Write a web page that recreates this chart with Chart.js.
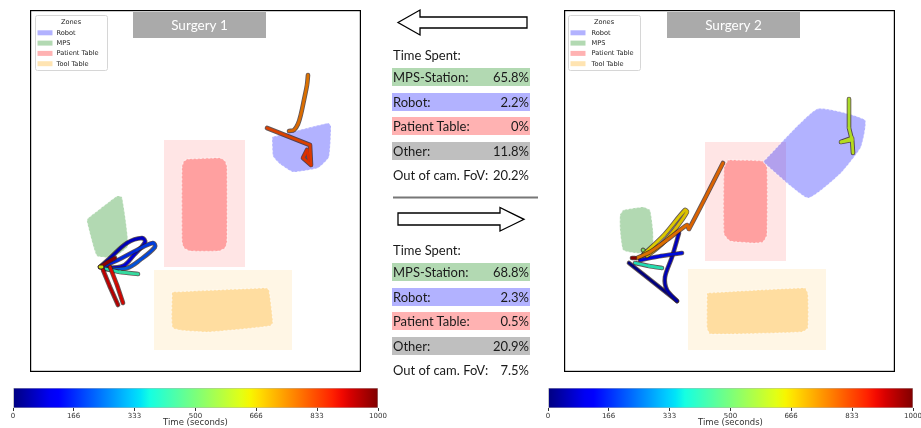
<!DOCTYPE html>
<html>
<head>
<meta charset="utf-8">
<title>Surgery staff trajectories</title>
<script src="https://cdn.jsdelivr.net/npm/chart.js@4.4.1/dist/chart.umd.min.js"></script>
<style>
  html, body { margin: 0; padding: 0; background: #fff; }
  body { width: 921px; height: 428px; position: relative; overflow: hidden; font-family: Lato, "Open Sans", sans-serif; color: #1a1a1a; }
  canvas { position: absolute; }
  .stat { position: absolute; left: 392px; width: 138px; height: 18px; line-height: 18px; font-size: 13px; white-space: nowrap;
          display: flex; justify-content: space-between; box-sizing: border-box; padding: 0 1px; }
  .head { position: absolute; left: 393px; font-size: 13px; line-height: 18px; height: 18px; white-space: nowrap; }
  svg { position: absolute; left: 0; top: 0; }
</style>
</head>
<body>
<canvas id="map1" width="331" height="362" style="left:30px;top:10px"></canvas>
<canvas id="map2" width="331" height="362" style="left:564px;top:10px"></canvas>
<canvas id="cb1" width="395" height="50" style="left:0px;top:378px"></canvas>
<canvas id="cb2" width="395" height="50" style="left:535px;top:378px"></canvas>
<svg width="921" height="428">
  <polygon points="398,22.5 420,10 420,17 527,17 527,28 420,28 420,35" fill="#fff" stroke="#000" stroke-width="1.3"/>
  <line x1="393" y1="197.5" x2="538" y2="197.5" stroke="#777" stroke-width="2"/>
  <polygon points="398,213 500,213 500,207.5 524,219.3 500,231 500,225 398,225" fill="#fff" stroke="#000" stroke-width="1.3"/>
</svg>
<div id="stats"></div>

<script>
// ---- time scale ----
const tMax = 1000;
const colorbarTicks = [0, 166, 333, 500, 666, 833, 1000];

// ---- zones ----
const zoneNames = ['Robot', 'MPS', 'Patient Table', 'Tool Table'];

// ---- time-spent summaries ----
const statLabels = ['MPS-Station:', 'Robot:', 'Patient Table:', 'Other:', 'Out of cam. FoV:'];
const s1Shares = [65.8, 2.2, 0, 11.8, 20.2];
const s2Shares = [68.8, 2.3, 0.5, 20.9, 7.5];

// ---- Surgery 1 floor plan (floor units, y grows downward) ----
const s1PatientArea = [[134,130],[215,130],[215,257],[134,257]];
const s1ToolArea    = [[124,260],[262,260],[262,340],[124,340]];
const s1RobotZone   = [[242,127],[298,113],[301,116],[299,147],[288,158],[263,162],[250,154],[243,146]];
const s1MpsZone     = [[57,209],[87,186],[92,187],[98,236],[84,247],[67,246],[57,212]];
const s1PatientZone = [[158,149],[190,148],[195,151],[197,157],[197,232],[195,238],[189,241],[160,241],[154,238],[152,232],[152,157],[154,151]];
const s1ToolZone    = [[142,282],[236,278],[239,280],[243,313],[240,316],[177,322],[143,318],[142,285]];

// tracks: [x, y, time in seconds]
const s1Tracks = [
  [[70,257,60],[80,248,68],[97,233,78],[112,228,88],[115,232,95],[104,245,104],[93,256,112],[72,258,120]],
  [[72,257,160],[88,250,170],[107,240,185],[123,233,198],[125,237,206],[110,250,218],[97,258,228],[74,259,240]],
  [[76,259,410],[90,262,425],[108,264,440]],
  [[278,65,770],[277,75,772],[274,90,775],[271,104,778],[268,114,781],[264,120,784],[259,121,786]],
  [[237,118,830],[280,135,838],[281,155,845],[273,148,850],[277,140,855],[279,150,860]],
  [[80,257,895],[87,275,902],[93,293,910]],
  [[73,260,920],[80,277,930],[88,295,940]],
  [[70,257,965],[78,252,972],[85,248,980]],
  [[70,257,640],[72,257,645]]
];
const s1TrackTension = [0.35, 0.35, 0.2, 0.35, 0, 0, 0, 0.2, 0];

// ---- Surgery 2 floor plan ----
const s2PatientArea = [[141,132],[222,132],[222,251],[141,251]];
const s2ToolArea    = [[124,259],[262,259],[262,340],[124,340]];
const s2RobotZone   = [[199,152],[253,99],[301,110],[297,137],[277,163],[244,188]];
const s2MpsZone     = [[59,200],[79,197],[86,200],[89,220],[89,237],[84,243],[70,243],[59,240],[56,220],[56,205]];
const s2PatientZone = [[164,150],[198,151],[203,157],[203,225],[199,232],[190,233],[166,231],[160,224],[160,158]];
const s2ToolZone    = [[143,283],[241,278],[244,284],[244,318],[238,322],[146,324],[143,318]];

const s2Tracks = [
  [[65,253,15],[113,291,45]],
  [[113,291,50],[103,280,60],[101,267,70],[108,247,80],[115,223,90]],
  [[76,250,130],[97,246,140],[118,243,150]],
  [[71,253,395],[85,256,405],[98,258,415]],
  [[79,240,520],[82,243,525]],
  [[285,89,590],[285,118,596],[288,130,600],[277,132,604],[288,128,607],[289,143,610]],
  [[79,245,660],[100,225,665],[121,200,670],[123,202,673],[112,218,678],[98,234,684],[83,246,690]],
  [[73,248,770],[86,242,775],[103,230,780],[123,215,785],[125,219,788],[159,153,800]],
  [[68,248,980],[71,248,990]]
];
const s2TrackTension = [0, 0.3, 0.2, 0.2, 0, 0, 0.3, 0.15, 0];

// ---- styling ----
const zoneFill = ['rgba(0,0,255,0.3)', 'rgba(0,128,0,0.3)', 'rgba(255,0,0,0.3)', 'rgba(255,165,0,0.3)'];
const areaFill = ['rgba(255,0,0,0.1)', 'rgba(255,165,0,0.1)'];
const statFill = ['rgba(0,128,0,0.3)', 'rgba(0,0,255,0.3)', 'rgba(255,0,0,0.3)', 'rgba(128,128,128,0.5)', 'rgba(0,0,0,0)'];

// matplotlib "jet" segment data
const JET = {
  r: [[0,0],[0.35,0],[0.66,1],[0.89,1],[1,0.5]],
  g: [[0,0],[0.125,0],[0.375,1],[0.64,1],[0.91,0],[1,0]],
  b: [[0,0.5],[0.11,1],[0.34,1],[0.65,0],[1,0]]
};
function interp(seg, v) {
  for (let i = 1; i < seg.length; i++) {
    if (v <= seg[i][0]) {
      const [x0, y0] = seg[i-1], [x1, y1] = seg[i];
      return y0 + (y1 - y0) * (v - x0) / (x1 - x0);
    }
  }
  return seg[seg.length-1][1];
}
function jet(v, shade = 1) {
  v = Math.max(0, Math.min(1, v));
  const c = k => Math.round(255 * shade * interp(JET[k], v));
  return `rgb(${c('r')},${c('g')},${c('b')})`;
}

function areaDataset(points, color, order) {
  return {
    data: points.map(([x, y]) => ({x, y})),
    fill: 'shape', backgroundColor: color, borderWidth: 0,
    borderColor: 'rgba(0,0,0,0)', pointRadius: 0, tension: 0, order
  };
}
function zoneDataset(points, color, order) {
  const pts = points.concat([points[0]]).map(([x, y]) => ({x, y}));
  return {
    data: pts, fill: 'shape', backgroundColor: color,
    borderColor: 'rgba(255,255,255,0.55)', borderWidth: 1.2, borderDash: [2, 2],
    pointRadius: 0, tension: 0.15, order
  };
}
// each track: dark edge underneath, time-coloured core on top
function trackDatasets(track, tension, order) {
  const pts = track.map(([x, y]) => ({x, y}));
  const times = track.map(p => p[2]);
  const common = { data: pts, fill: false, pointRadius: 0, tension,
                   borderCapStyle: 'round', borderJoinStyle: 'round' };
  return [
    Object.assign({}, common, { borderColor: 'rgba(50,30,30,0.75)', borderWidth: 4.6, order: order + 1 }),
    Object.assign({}, common, {
      borderWidth: 2.8, order,
      borderColor: jet(times[0] / tMax, 0.86),
      segment: { borderColor: c => jet(times[c.p0DataIndex] / tMax, 0.86) }
    })
  ];
}

function buildDatasets(areas, zones, tracks, tensions) {
  const ds = [];
  areas.forEach((a, i) => ds.push(areaDataset(a, areaFill[i], 1000 - i)));
  zones.forEach((z, i) => ds.push(zoneDataset(z, zoneFill[i], 900 - i)));
  let order = 800;
  tracks.forEach((t, i) => { ds.push(...trackDatasets(t, tensions[i], order)); order -= 2; });
  return ds;
}

// axes frame
const framePlugin = {
  id: 'frame',
  afterDraw(chart) {
    const {ctx, chartArea: a} = chart;
    ctx.save();
    ctx.strokeStyle = '#000';
    ctx.lineWidth = 1.2;
    ctx.strokeRect(a.left + 0.6, a.top + 0.6, a.right - a.left - 1.2, a.bottom - a.top - 1.2);
    ctx.restore();
  }
};

// zone legend in the upper-left corner of the plot
const zoneLegendPlugin = {
  id: 'zoneLegend',
  afterDraw(chart, args, opts) {
    const {ctx, chartArea: a} = chart;
    const x = a.left + opts.dx, y = a.top + 5, w = 72, h = 55;
    ctx.save();
    ctx.fillStyle = 'rgba(255,255,255,0.85)';
    ctx.strokeStyle = '#d6d6d6';
    ctx.lineWidth = 1;
    ctx.beginPath();
    ctx.roundRect(x + 0.5, y + 0.5, w, h, 2);
    ctx.fill(); ctx.stroke();
    ctx.font = '6.6px "DejaVu Sans"';
    ctx.fillStyle = '#222';
    ctx.textBaseline = 'middle';
    ctx.textAlign = 'center';
    ctx.fillText('Zones', x + w / 2, y + 7.5);
    ctx.textAlign = 'left';
    zoneNames.forEach((name, i) => {
      const cy = y + 17.8 + i * 10.3;
      ctx.fillStyle = zoneFill[i];
      ctx.fillRect(x + 2.5, cy - 2.5, 15, 5);
      ctx.fillStyle = '#222';
      ctx.fillText(name, x + 21.5 + opts.tx, cy + 0.3);
    });
    ctx.restore();
  }
};

// grey title tab at the top of each plot
const tabTitlePlugin = {
  id: 'tabTitle',
  afterDraw(chart, args, opts) {
    const {ctx, chartArea: a} = chart;
    ctx.save();
    ctx.fillStyle = '#aaaaaa';
    ctx.fillRect(a.left + 103, a.top + 2, 133, 26);
    ctx.fillStyle = '#fff';
    ctx.font = '13.5px Lato';
    ctx.textAlign = 'center';
    ctx.textBaseline = 'middle';
    ctx.fillText(opts.text, a.left + 169.5, a.top + 15.5);
    ctx.restore();
  }
};

function drawMap(id, title, areas, zones, tracks, tensions, dx, tx) {
  new Chart(document.getElementById(id), {
    type: 'line',
    data: { datasets: buildDatasets(areas, zones, tracks, tensions) },
    options: {
      responsive: false, animation: false, devicePixelRatio: 1, events: [],
      layout: { padding: 0 },
      scales: {
        x: { type: 'linear', min: 0, max: 331, display: false },
        y: { type: 'linear', min: 0, max: 362, reverse: true, display: false }
      },
      plugins: {
        legend: { display: false }, tooltip: { enabled: false },
        zoneLegend: { dx, tx }, tabTitle: { text: title }
      }
    },
    plugins: [framePlugin, zoneLegendPlugin, tabTitlePlugin]
  });
}

drawMap('map1', 'Surgery 1', [s1PatientArea, s1ToolArea],
        [s1RobotZone, s1MpsZone, s1PatientZone, s1ToolZone], s1Tracks, s1TrackTension, 5, 0);
drawMap('map2', 'Surgery 2', [s2PatientArea, s2ToolArea],
        [s2RobotZone, s2MpsZone, s2PatientZone, s2ToolZone], s2Tracks, s2TrackTension, 4, 2);

// time colour bars
function drawColorbar(id) {
  new Chart(document.getElementById(id), {
    type: 'bar',
    data: {
      labels: ['time'],
      datasets: [{
        data: [[0, tMax]],
        barPercentage: 1, categoryPercentage: 1,
        borderColor: 'rgba(0,0,0,0.3)', borderWidth: 0.8, borderSkipped: false,
        backgroundColor: (c) => {
          const chart = c.chart, sx = chart.scales.x;
          if (!chart.chartArea || !sx) return jet(0.5);
          const g = chart.ctx.createLinearGradient(sx.getPixelForValue(0), 0, sx.getPixelForValue(tMax), 0);
          for (let i = 0; i <= 40; i++) g.addColorStop(i / 40, jet(i / 40));
          return g;
        }
      }]
    },
    options: {
      indexAxis: 'y', responsive: false, animation: false, devicePixelRatio: 1, events: [],
      layout: { padding: { left: 13, right: 17, top: 10, bottom: 0 } },
      scales: {
        y: { display: false },
        x: {
          type: 'linear', min: 0, max: tMax,
          afterBuildTicks: s => { s.ticks = colorbarTicks.map(v => ({value: v})); },
          ticks: { font: { family: 'DejaVu Sans', size: 7 }, color: '#333', padding: 1,
                   maxRotation: 0, autoSkip: false, callback: v => String(v) },
          grid: { drawOnChartArea: false, drawTicks: true, tickLength: 3, color: '#333' },
          border: { display: false },
          title: { display: true, text: 'Time (seconds)', color: '#333',
                   font: { family: 'DejaVu Sans', size: 8.5 }, padding: { top: 4, bottom: 0 } }
        }
      },
      plugins: { legend: { display: false }, tooltip: { enabled: false } }
    }
  });
}
drawColorbar('cb1');
drawColorbar('cb2');

// time-spent summaries between the two plots
function statBlock(top, shares) {
  const box = document.getElementById('stats');
  const head = document.createElement('div');
  head.className = 'head';
  head.style.top = (top - 9) + 'px';
  head.textContent = 'Time Spent:';
  box.appendChild(head);
  statLabels.forEach((label, i) => {
    const row = document.createElement('div');
    row.className = 'stat';
    row.style.top = (top + 22 + i * 24.5 - 9) + 'px';
    row.style.background = statFill[i];
    const l = document.createElement('span'); l.textContent = label;
    const v = document.createElement('span'); v.textContent = shares[i] + '%';
    row.appendChild(l); row.appendChild(v);
    box.appendChild(row);
  });
}
statBlock(55, s1Shares);
statBlock(250, s2Shares);
</script>
</body>
</html>
